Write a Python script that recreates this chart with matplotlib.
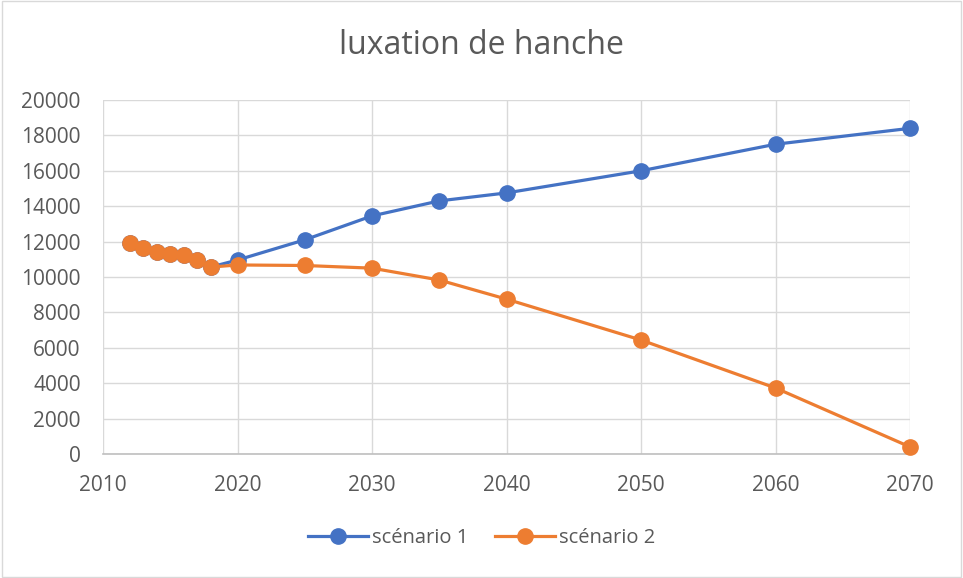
import matplotlib.pyplot as plt

years_1 = [2012, 2013, 2014, 2015, 2016, 2017, 2018, 2020, 2025, 2030, 2035, 2040, 2050, 2060, 2070]
scenario_1 = [11920, 11640, 11410, 11300, 11240, 10960, 10560, 10960, 12100, 13450, 14300, 14750, 16000, 17500, 18400]

years_2 = [2012, 2013, 2014, 2015, 2016, 2017, 2018, 2020, 2025, 2030, 2035, 2040, 2050, 2060, 2070]
scenario_2 = [11920, 11640, 11410, 11300, 11240, 10960, 10560, 10680, 10650, 10500, 9830, 8750, 6440, 3730, 400]

x_ticks = [2010, 2020, 2030, 2040, 2050, 2060, 2070]
y_ticks = list(range(0, 20001, 2000))

plt.rcParams['font.family'] = ['Open Sans', 'DejaVu Sans']

fig = plt.figure(figsize=(9.63, 5.78), dpi=100)
ax = fig.add_axes([103/963, 1 - 454/578, (910-103)/963, (454-100)/578])

ax.plot(years_1, scenario_1, color='#4472C4', linewidth=2.3, marker='o',
        markersize=11, label='scénario 1', zorder=3, clip_on=False)
ax.plot(years_2, scenario_2, color='#ED7D31', linewidth=2.3, marker='o',
        markersize=11, label='scénario 2', zorder=4, clip_on=False)

ax.set_xlim(2010, 2070)
ax.set_ylim(0, 20000)
ax.set_xticks(x_ticks)
ax.set_yticks(y_ticks)
ax.grid(True, color='#D9D9D9', linewidth=1)
ax.set_axisbelow(True)
for s in ['top', 'right', 'left']:
    ax.spines[s].set_visible(False)
ax.spines['bottom'].set_color('#BFBFBF')
ax.spines['bottom'].set_linewidth(1.2)
ax.tick_params(length=0, labelsize=15, colors='#595959')
ax.tick_params(axis='x', pad=15)
ax.tick_params(axis='y', pad=16)

fig.text(0.5, 1 - 45/578, 'luxation de hanche', ha='center', va='center',
         fontsize=23, color='#595959')

leg = fig.legend(loc='center', bbox_to_anchor=(0.5, 1 - 538/578), ncol=2,
                 frameon=False, fontsize=14.5, handlelength=3, columnspacing=1.3,
                 handletextpad=0.2)
for t in leg.get_texts():
    t.set_color('#595959')

border = plt.Rectangle((0.002, 0.002), 0.996, 0.996, transform=fig.transFigure,
                       fill=False, edgecolor='#D9D9D9', linewidth=1)
fig.patches.append(border)

fig.savefig('out.png', dpi=100)
